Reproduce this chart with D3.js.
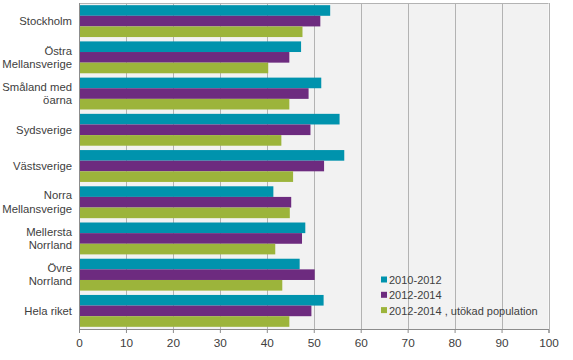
<!DOCTYPE html>
<html><head><meta charset="utf-8">
<script src="https://cdn.jsdelivr.net/npm/d3@7"></script>
<style>body{margin:0;background:#fff;} svg{display:block;} text{font-family:"Liberation Sans",Arial,Helvetica,sans-serif;}</style>
</head><body>
<svg id="c" width="573" height="360"></svg>
<script>
const categories = ["Stockholm","Östra\nMellansverige","Småland med\nöarna","Sydsverige","Västsverige","Norra\nMellansverige","Mellersta\nNorrland","Övre\nNorrland","Hela riket"];
const seriesNames = ["2010-2012","2012-2014","2012-2014 , utökad population"];
const s2010_2012 = [53.5,47.3,51.6,55.5,56.5,41.4,48.2,47.0,52.1];
const s2012_2014 = [51.4,44.8,48.9,49.3,52.2,45.2,47.5,50.2,49.5];
const s2012_2014u = [47.6,40.3,44.8,43.1,45.6,44.9,41.8,43.3,44.8];
const xTicks = [0,10,20,30,40,50,60,70,80,90,100];
const colors = ["#0093ad","#6d2b7f","#9cb43b"];

const FONT = "'Liberation Sans', Arial, sans-serif";
const series = [s2010_2012, s2012_2014, s2012_2014u];
const svg = d3.select("#c");
const L=79, R=548.5, T=3, B=329;
const x = d3.scaleLinear().domain([0,100]).range([L,R]);
const y = d3.scaleBand().domain(categories).range([T,B]).paddingInner(0.12).paddingOuter(0.06);
const ys = d3.scaleBand().domain([0,1,2]).range([0,y.bandwidth()]);

svg.append("rect").attr("x",L).attr("y",T).attr("width",R-L).attr("height",B-T).attr("fill","#f2f2f2");
svg.append("g").selectAll("line").data(xTicks.slice(1)).join("line")
  .attr("x1",d=>Math.round(x(d))+0.5).attr("x2",d=>Math.round(x(d))+0.5).attr("y1",T).attr("y2",B)
  .attr("stroke","#b3b3b3").attr("stroke-width",1);
svg.append("line").attr("x1",L).attr("x2",R).attr("y1",T+0.5).attr("y2",T+0.5).attr("stroke","#b3b3b3");

const g = svg.append("g");
categories.forEach((c,i)=>{
  series.forEach((s,j)=>{
    g.append("rect").attr("x",x(0)).attr("y",y(c)+ys(j)).attr("width",x(s[i])-x(0)).attr("height",ys.bandwidth()).attr("fill",colors[j]);
  });
});

// axes
const ax = svg.append("g").attr("transform",`translate(0,${B})`)
  .call(d3.axisBottom(x).tickValues(xTicks).tickSize(4).tickFormat(d3.format("d")));
ax.attr("font-family",null);
ax.select(".domain").attr("stroke","#8c8c8c");
ax.selectAll(".tick line").attr("stroke","#8c8c8c");
ax.selectAll("text").style("font-family",FONT).attr("font-size",11.8).attr("fill","#404040").attr("dy","0.9em");
svg.append("line").attr("x1",L+0.5).attr("x2",L+0.5).attr("y1",T).attr("y2",B).attr("stroke","#8c8c8c");

// category labels
categories.forEach(c=>{
  const lines=c.split("\n");
  const cy=y(c)+y.bandwidth()/2;
  const t=svg.append("text").attr("x",72).attr("text-anchor","end")
    .style("font-family",FONT).attr("font-size",11.3).attr("fill","#404040");
  lines.forEach((ln,k)=>{
    t.append("tspan").attr("x",72).attr("y",cy+(k-(lines.length-1)/2)*13.5+4).text(ln);
  });
});

// legend
const lg = svg.append("g");
seriesNames.forEach((n,j)=>{
  const ly=280+j*15.3;
  lg.append("rect").attr("x",381).attr("y",ly-3.5).attr("width",6).attr("height",6).attr("fill",colors[j]);
  lg.append("text").attr("x",389).attr("y",ly+4).text(n)
    .style("font-family",FONT).attr("font-size",11).attr("fill","#404040");
});
</script>
</body></html>
